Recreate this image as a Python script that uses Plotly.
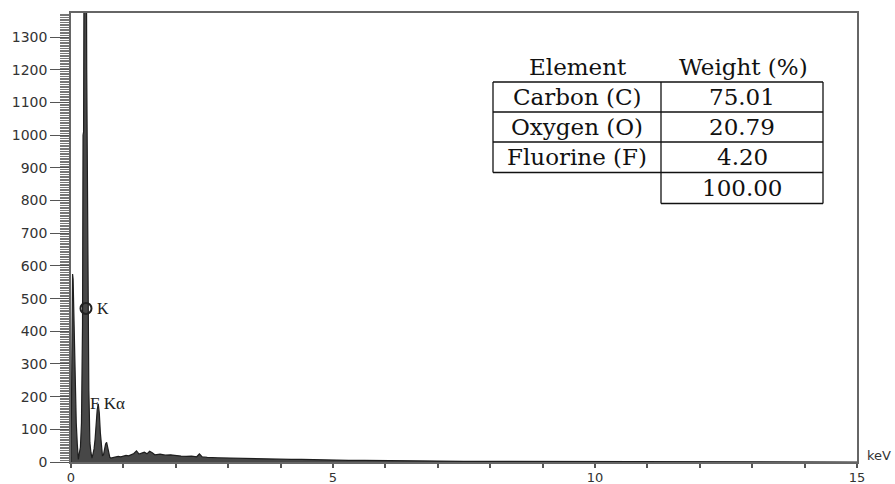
import plotly.graph_objects as go

# ---------------- data ----------------
energy_kev = [0.00, 0.01, 0.02, 0.03, 0.04, 0.05, 0.06, 0.07, 0.08, 0.10, 0.12, 0.14, 0.16, 0.18,
              0.20, 0.22, 0.23, 0.24, 0.25, 0.26, 0.27, 0.28, 0.29, 0.30, 0.31, 0.32, 0.33, 0.34,
              0.35, 0.36, 0.38, 0.40, 0.42, 0.44, 0.46, 0.48, 0.50, 0.52, 0.54, 0.56, 0.58, 0.60,
              0.62, 0.64, 0.66, 0.68, 0.70, 0.72, 0.74, 0.76, 0.80, 0.85, 0.90, 0.95, 1.00, 1.05,
              1.10, 1.15, 1.20, 1.25, 1.30, 1.35, 1.40, 1.45, 1.50, 1.55, 1.60, 1.70, 1.80, 1.90,
              2.00, 2.10, 2.20, 2.30, 2.40, 2.45, 2.50, 2.60, 2.80, 3.00, 3.20, 3.40, 3.60, 3.80,
              4.00, 4.20, 4.40, 4.60, 4.80, 5.00, 5.30, 5.60, 6.00, 6.50, 7.00, 7.50, 8.00, 9.00,
              10.00, 11.00, 12.00, 13.00, 14.00, 15.00]
counts = [0, 260, 420, 575, 560, 480, 420, 330, 240, 120, 55, 8, 28, 45,
          120, 420, 1000, 1010, 1600, 2000, 2100, 2000, 1800, 1200, 830, 500, 225, 220,
          150, 60, 30, 12, 25, 40, 70, 120, 160, 178, 150, 90, 40, 20,
          22, 40, 55, 60, 45, 25, 15, 12, 14, 15, 17, 16, 18, 20,
          19, 22, 26, 34, 24, 27, 30, 25, 33, 28, 22, 24, 21, 22,
          19, 18, 17, 18, 16, 25, 16, 14, 13, 12, 11, 10, 10, 9,
          9, 8, 8, 7, 7, 6, 5, 5, 4, 3, 3, 2, 2, 1.5,
          1, 1, 0.5, 0.5, 0.3, 0]

peak_label_k = {"x": 0.286, "y": 470, "text": "K"}
peak_label_fka = {"x": 0.32, "y": 180, "text": "F Kα"}

table_header = ["Element", "Weight (%)"]
table_elements = ["Carbon (C)", "Oxygen (O)", "Fluorine (F)"]
table_weights = ["75.01", "20.79", "4.20"]
table_total = "100.00"

y_ticks = list(range(0, 1400, 100))
x_ticks = [0, 5, 10, 15]

# ---------------- layout helpers ----------------
W, H = 895, 484
ML, MR, MT, MB = 71, 38, 13, 22
PW, PH = W - ML - MR, H - MT - MB


def px2paper(px, py):
    return (px - ML) / PW, (H - MB - py) / PH


fig = go.Figure()

fig.add_trace(go.Scatter(
    x=energy_kev, y=counts, mode="lines", fill="tozeroy",
    line=dict(color="#1e1e1e", width=1.2), fillcolor="#474747",
    hoverinfo="skip", showlegend=False))

fig.add_trace(go.Scatter(
    x=[peak_label_k["x"]], y=[peak_label_k["y"]], mode="markers",
    marker=dict(symbol="circle-open", size=11, line=dict(color="#222", width=2), color="#222"),
    showlegend=False, hoverinfo="skip"))

ann = []
ann.append(dict(x=peak_label_k["x"] + 0.17, y=peak_label_k["y"], xref="x", yref="y",
                text=peak_label_k["text"], showarrow=False, xanchor="left", yanchor="middle",
                font=dict(family="Liberation Serif", size=16, color="#222")))
ann.append(dict(x=peak_label_fka["x"], y=peak_label_fka["y"], xref="x", yref="y",
                text=peak_label_fka["text"], showarrow=False, xanchor="left", yanchor="middle",
                font=dict(family="Liberation Serif", size=17, color="#222")))
# keV label
kx, ky = px2paper(865, 455)
ann.append(dict(x=kx, y=ky, xref="paper", yref="paper", text="keV", showarrow=False,
                xanchor="left", yanchor="middle",
                font=dict(family="DejaVu Sans", size=13, color="#333")))

# ---------------- table ----------------
tl, tm, tr = 493, 661, 823
rows_y = [82, 112, 142, 172.5, 203.5]
shapes = []


def line_px(x0, y0, x1, y1):
    a0, b0 = px2paper(x0, y0)
    a1, b1 = px2paper(x1, y1)
    shapes.append(dict(type="line", xref="paper", yref="paper", x0=a0, y0=b0, x1=a1, y1=b1,
                       line=dict(color="#111", width=1.3)))


for ry in rows_y[:4]:
    line_px(tl, ry, tr, ry)
line_px(tm, rows_y[4], tr, rows_y[4])
line_px(tl, rows_y[0], tl, rows_y[3])
line_px(tm, rows_y[0], tm, rows_y[4])
line_px(tr, rows_y[0], tr, rows_y[4])

tfont = dict(family="DejaVu Serif", size=23, color="#111")


def text_px(cx, cy, t):
    a, b = px2paper(cx, cy)
    ann.append(dict(x=a, y=b, xref="paper", yref="paper", text=t, showarrow=False,
                    xanchor="center", yanchor="middle", font=tfont))


text_px((tl + tm) / 2 + 1, 67, table_header[0])
text_px((tm + tr) / 2 + 1, 67, table_header[1])
for i in range(3):
    cy = (rows_y[i] + rows_y[i + 1]) / 2
    text_px((tl + tm) / 2, cy, table_elements[i])
    text_px((tm + tr) / 2, cy, table_weights[i])
text_px((tm + tr) / 2, (rows_y[3] + rows_y[4]) / 2, table_total)

y_font = dict(family="DejaVu Sans", size=14, color="#333")
x_font = dict(family="DejaVu Sans", size=13, color="#333")

fig.update_layout(
    width=W, height=H,
    margin=dict(l=ML, r=MR, t=MT, b=MB, pad=0, autoexpand=False),
    paper_bgcolor="white", plot_bgcolor="white",
    shapes=shapes, annotations=ann,
    xaxis=dict(range=[0, 15], tickmode="array", tickvals=x_ticks, ticktext=[str(v) for v in x_ticks],
               ticks="outside", ticklen=3, tickwidth=1.5, tickcolor="#555",
               minor=dict(dtick=1, ticks="outside", ticklen=4, tickwidth=1.5, tickcolor="#555"),
               showline=True, linecolor="#666", linewidth=1.5, mirror=True, automargin=False,
               showgrid=False, zeroline=False, tickfont=x_font),
    yaxis=dict(range=[0, 1374], tickmode="array", tickvals=y_ticks, ticktext=[str(v) for v in y_ticks],
               ticks="outside", ticklen=19, tickwidth=1.3, tickcolor="#555",
               minor=dict(dtick=5, ticks="outside", ticklen=9, tickwidth=1, tickcolor="#777"),
               showline=True, linecolor="#666", linewidth=1.5, mirror=True, automargin=False,
               showgrid=False, zeroline=False, tickfont=y_font),
)

fig.write_html("out.html")
